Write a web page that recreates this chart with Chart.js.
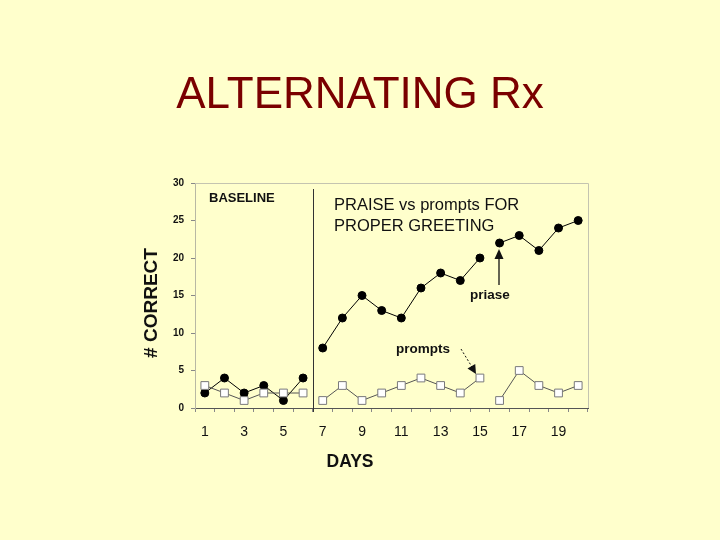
<!DOCTYPE html>
<html>
<head>
<meta charset="utf-8">
<script src="https://cdn.jsdelivr.net/npm/chart.js@4.4.1/dist/chart.umd.min.js"></script>
<style>
  html, body { margin: 0; padding: 0; background: #ffffcc; }
  canvas { display: block; }
</style>
</head>
<body>
<canvas id="chart" width="720" height="540"></canvas>
<script>
const days = ['1','2','3','4','5','6','7','8','9','10','11','12','13','14','15','16','17','18','19','20'];
const praise = [2, 4, 2, 3, 1, 4, 8, 12, 15, 13, 12, 16, 18, 17, 20, 22, 23, 21, 24, 25];
const prompts = [3, 2, 1, 2, 2, 2, 1, 3, 1, 2, 3, 4, 3, 2, 4, 1, 5, 3, 2, 3];
const yTicks = [0, 5, 10, 15, 20, 25, 30];
// lines are not joined after these day indexes
const breakAfter = [5, 14];

const FONT = '"Liberation Sans", Arial, sans-serif';

const annotations = {
    id: 'annotations',
    beforeDatasetsDraw(chart) {
        const { ctx, chartArea: a } = chart;
        ctx.save();
        // light frame on top and right
        ctx.strokeStyle = '#c4c4b0';
        ctx.lineWidth = 1;
        ctx.beginPath();
        ctx.moveTo(a.left, a.top + 0.5);
        ctx.lineTo(a.right + 0.5, a.top + 0.5);
        ctx.lineTo(a.right + 0.5, a.bottom);
        ctx.stroke();
        // phase change line between day 6 and 7
        const px = Math.round(chart.scales.x.getPixelForValue(5.5)) + 0.5;
        ctx.strokeStyle = '#333';
        ctx.beginPath();
        ctx.moveTo(px, a.top + 6);
        ctx.lineTo(px, a.bottom + 4);
        ctx.stroke();
        ctx.restore();
    },
    afterDraw(chart) {
        const { ctx } = chart;
        ctx.save();
        ctx.fillStyle = '#7a0000';
        ctx.font = '44px ' + FONT;
        ctx.textAlign = 'center';
        ctx.textBaseline = 'alphabetic';
        ctx.fillText('ALTERNATING Rx', 360, 108);

        ctx.fillStyle = '#111';
        ctx.textAlign = 'left';
        ctx.font = 'bold 13px ' + FONT;
        ctx.fillText('BASELINE', 209, 202);

        ctx.font = '16.5px ' + FONT;
        ctx.fillText('PRAISE vs prompts FOR', 334, 210);
        ctx.fillText('PROPER GREETING', 334, 231);

        ctx.font = 'bold 13.5px ' + FONT;
        ctx.fillText('priase', 470, 299);
        ctx.fillText('prompts', 396, 353);

        // arrow to praise
        ctx.strokeStyle = '#111';
        ctx.lineWidth = 1.3;
        ctx.beginPath();
        ctx.moveTo(499, 285);
        ctx.lineTo(499, 256);
        ctx.stroke();
        ctx.beginPath();
        ctx.moveTo(499, 249);
        ctx.lineTo(494.5, 259);
        ctx.lineTo(503.5, 259);
        ctx.closePath();
        ctx.fill();

        // dotted arrow to prompts
        ctx.lineWidth = 1;
        ctx.setLineDash([2, 2]);
        ctx.beginPath();
        ctx.moveTo(461, 349);
        ctx.lineTo(472, 367);
        ctx.stroke();
        ctx.setLineDash([]);
        const ang = Math.atan2(374 - 349, 476 - 461);
        ctx.save();
        ctx.translate(476, 374);
        ctx.rotate(ang);
        ctx.beginPath();
        ctx.moveTo(0, 0);
        ctx.lineTo(-9, -4.5);
        ctx.lineTo(-9, 4.5);
        ctx.closePath();
        ctx.fill();
        ctx.restore();

        // axis titles
        ctx.font = 'bold 17.5px ' + FONT;
        ctx.textAlign = 'center';
        ctx.fillText('DAYS', 350, 467);

        ctx.translate(157, 303);
        ctx.rotate(-Math.PI / 2);
        ctx.font = 'bold 19px ' + FONT;
        ctx.fillText('# CORRECT', 0, 0);
        ctx.restore();
    }
};

new Chart(document.getElementById('chart'), {
    type: 'line',
    data: {
        labels: days,
        datasets: [
            {
                label: 'prompts',
                data: prompts,
                borderColor: '#555',
                borderWidth: 1,
                pointStyle: 'rect',
                pointRadius: 5.5,
                pointBackgroundColor: '#ffffff',
                pointBorderColor: '#7a7a7a',
                pointBorderWidth: 1,
                tension: 0,
                segment: {
                    borderColor: c => breakAfter.includes(c.p0DataIndex) ? 'rgba(0,0,0,0)' : '#555'
                }
            },
            {
                label: 'priase',
                data: praise,
                borderColor: '#000',
                borderWidth: 1,
                pointStyle: 'circle',
                pointRadius: 4,
                pointBackgroundColor: '#000',
                pointBorderColor: '#000',
                tension: 0,
                segment: {
                    borderColor: c => breakAfter.includes(c.p0DataIndex) ? 'rgba(0,0,0,0)' : '#000'
                }
            }
        ]
    },
    options: {
        responsive: false,
        animation: false,
        layout: { padding: { top: 183, right: 132, left: 0, bottom: 0 } },
        plugins: {
            legend: { display: false },
            tooltip: { enabled: false }
        },
        scales: {
            x: {
                type: 'category',
                offset: true,
                grid: { offset: true, drawOnChartArea: false, tickLength: 4, color: '#888' },
                border: { color: '#555' },
                ticks: {
                    autoSkip: false,
                    maxRotation: 0,
                    padding: 12,
                    color: '#111',
                    font: { family: FONT, size: 14 },
                    callback: (v, i) => (i % 2 === 0 ? days[i] : '')
                },
                afterFit: s => { s.height = 132; }
            },
            y: {
                min: 0,
                max: 30,
                afterBuildTicks: s => { s.ticks = yTicks.map(v => ({ value: v })); },
                grid: { drawOnChartArea: false, tickLength: 4, color: '#888' },
                border: { color: '#b8b8a4' },
                ticks: {
                    padding: 7,
                    color: '#111',
                    font: { family: FONT, size: 10, weight: 'bold' }
                },
                afterFit: s => { s.width = 195; }
            }
        }
    },
    plugins: [annotations]
});
</script>
</body>
</html>
